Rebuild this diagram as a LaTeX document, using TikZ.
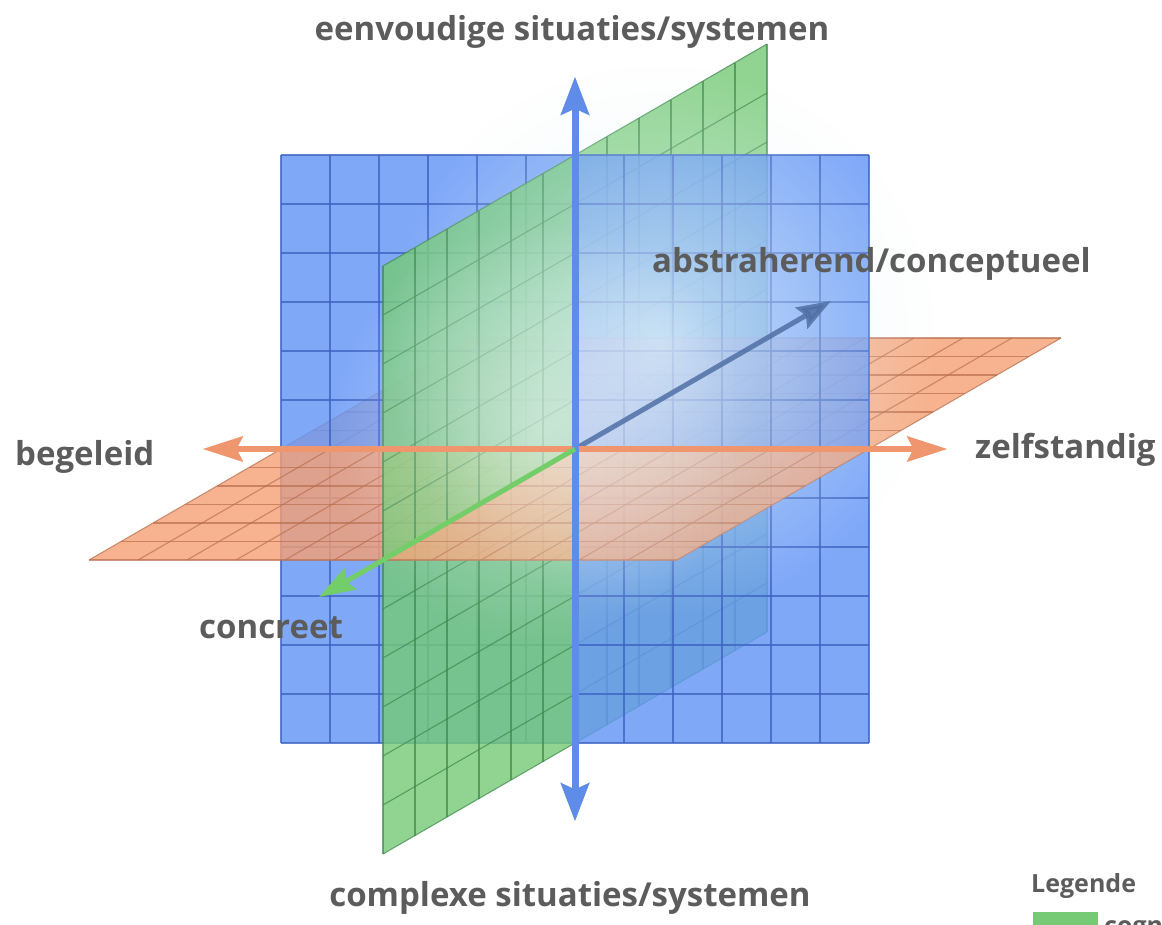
\documentclass[tikz,border=0pt]{standalone}
\usepackage{fontspec}
\setmainfont{Open Sans}
\usetikzlibrary{arrows.meta,fadings}
\definecolor{bluep}{RGB}{100,150,246}
\definecolor{bluegrid}{RGB}{62,100,195}
\definecolor{greenp}{RGB}{118,202,118}
\definecolor{greengrid}{RGB}{60,135,75}
\definecolor{orangep}{RGB}{246,160,115}
\definecolor{orangegrid}{RGB}{185,110,78}
\definecolor{txt}{RGB}{92,92,92}
\definecolor{axblue}{RGB}{95,140,232}
\definecolor{axorange}{RGB}{240,150,110}
\definecolor{axgreen}{RGB}{115,205,105}
\definecolor{axslate}{RGB}{80,112,165}
\definecolor{glow}{RGB}{228,246,250}
\tikzfading[name=glowfade, inner color=transparent!28, outer color=transparent!100]
\tikzfading[name=glowsoft, inner color=transparent!55, outer color=transparent!100]
\newcommand\gpiece[4]{%
  \fill[gfill] (0,#1,#3) -- (0,#2,#3) -- (0,#2,#4) -- (0,#1,#4) -- cycle;
  \foreach \t in {#1,...,#2} \draw[ggrid] (0,\t,#3) -- (0,\t,#4);
  \foreach \t in {#3,...,#4} \draw[ggrid] (0,#1,\t) -- (0,#2,\t);
}
\newcommand\opiece[4]{%
  \fill[ofill] (#1,0,#3) -- (#2,0,#3) -- (#2,0,#4) -- (#1,0,#4) -- cycle;
  \foreach \t in {#1,...,#2} \draw[ogrid] (\t,0,#3) -- (\t,0,#4);
  \foreach \t in {#3,...,#4} \draw[ogrid] (#1,0,\t) -- (#2,0,\t);
}
\begin{document}
\begin{tikzpicture}[x=1pt,y=-1pt,
  lbl/.style={font=\fontsize{33}{40}\selectfont\bfseries, text=txt, inner sep=0pt},
  gfill/.style={fill=greenp, fill opacity=0.8},
  ggrid/.style={draw=greengrid, draw opacity=0.7, line width=1.1pt},
  ofill/.style={fill=orangep, fill opacity=0.8},
  ogrid/.style={draw=orangegrid, draw opacity=0.7, line width=1.1pt},
  bgrid/.style={draw=bluegrid, draw opacity=0.8, line width=1.2pt},
  space3d/.style={shift={(575,449)}, x={(49pt,0pt)}, y={(0pt,49pt)}, z={(32pt,18.5pt)}},
]
\useasboundingbox (0,0) rectangle (1162,924);
\fill[white] (0,0) rectangle (1162,924);
\begin{scope}[space3d]
  \coordinate (o) at (0,0,0);
  \coordinate (up) at (0,7.6,0);
  \coordinate (down) at (0,-7.6,0);
  \coordinate (west) at (-7.6,0,0);
  \coordinate (east) at (7.6,0,0);
  \coordinate (front) at (0,0,-8);
  \coordinate (back) at (0,0,8);
  % back parts
  \gpiece{-6}{0}{0}{6}
  \gpiece{0}{6}{0}{6}
  \opiece{-6}{0}{0}{6}
  \opiece{0}{6}{0}{6}
  % blue plane
  \fill[bluep, fill opacity=0.82] (-6,-6,0) rectangle (6,6,0);
  \foreach \t in {-6,...,6} {
    \draw[bgrid] (\t,-6,0) -- (\t,6,0);
    \draw[bgrid] (-6,\t,0) -- (6,\t,0);
  }
  % front parts
  \opiece{-6}{0}{-6}{0}
  \gpiece{0}{6}{-6}{0}
  \gpiece{-6}{0}{-6}{0}
  \opiece{0}{6}{-6}{0}
\end{scope}
% glow
\fill[glow, path fading=glowfade] (660,340) circle (275);
\fill[white, path fading=glowsoft] (540,430) circle (210);
\begin{scope}[space3d]
  \draw[axslate, line width=5pt, draw opacity=0.85, fill opacity=0.85, -{Stealth[length=34pt,width=24pt,inset=5pt]}] (o) -- (back);
  \draw[axorange, line width=6pt, {Stealth[length=40pt,width=25pt,inset=6pt]}-{Stealth[length=40pt,width=25pt,inset=6pt]}] (west) -- (east);
  \draw[axblue, line width=7pt, {Stealth[length=38pt,width=28pt,inset=6pt]}-{Stealth[length=38pt,width=28pt,inset=6pt]}] (down) -- (up);
  \draw[axgreen, line width=5pt, -{Stealth[length=36pt,width=24pt,inset=5pt]}] (o) -- (front);
\end{scope}
% labels
\node[lbl, anchor=base] (ltop) at (572,40) {eenvoudige situaties/systemen};
\node[lbl, anchor=base] (lbot) at (570,906) {complexe situaties/systemen};
\node[lbl, anchor=base west] (labs) at (652,272) {abstraherend/conceptueel};
\node[lbl, anchor=base west] (lbeg) at (15,465) {begeleid};
\node[lbl, anchor=base west] (lzel) at (975,458) {zelfstandig};
\node[lbl, anchor=base west] (lcon) at (199,638) {concreet};
\node[font=\fontsize{25}{30}\selectfont\bfseries, text=txt, inner sep=0pt, anchor=base west] (leg) at (1031,892) {Legende};
\begin{scope}
  \clip (0,0) rectangle (1162,924);
  \fill[greenp] (1033,912) rectangle (1098,932) coordinate (legbox);
  \node[font=\fontsize{25}{30}\selectfont\bfseries, text=txt, inner sep=0pt, anchor=base west] (legtxt) at (1104,934) {cognitief};
\end{scope}
\end{tikzpicture}
\end{document}
